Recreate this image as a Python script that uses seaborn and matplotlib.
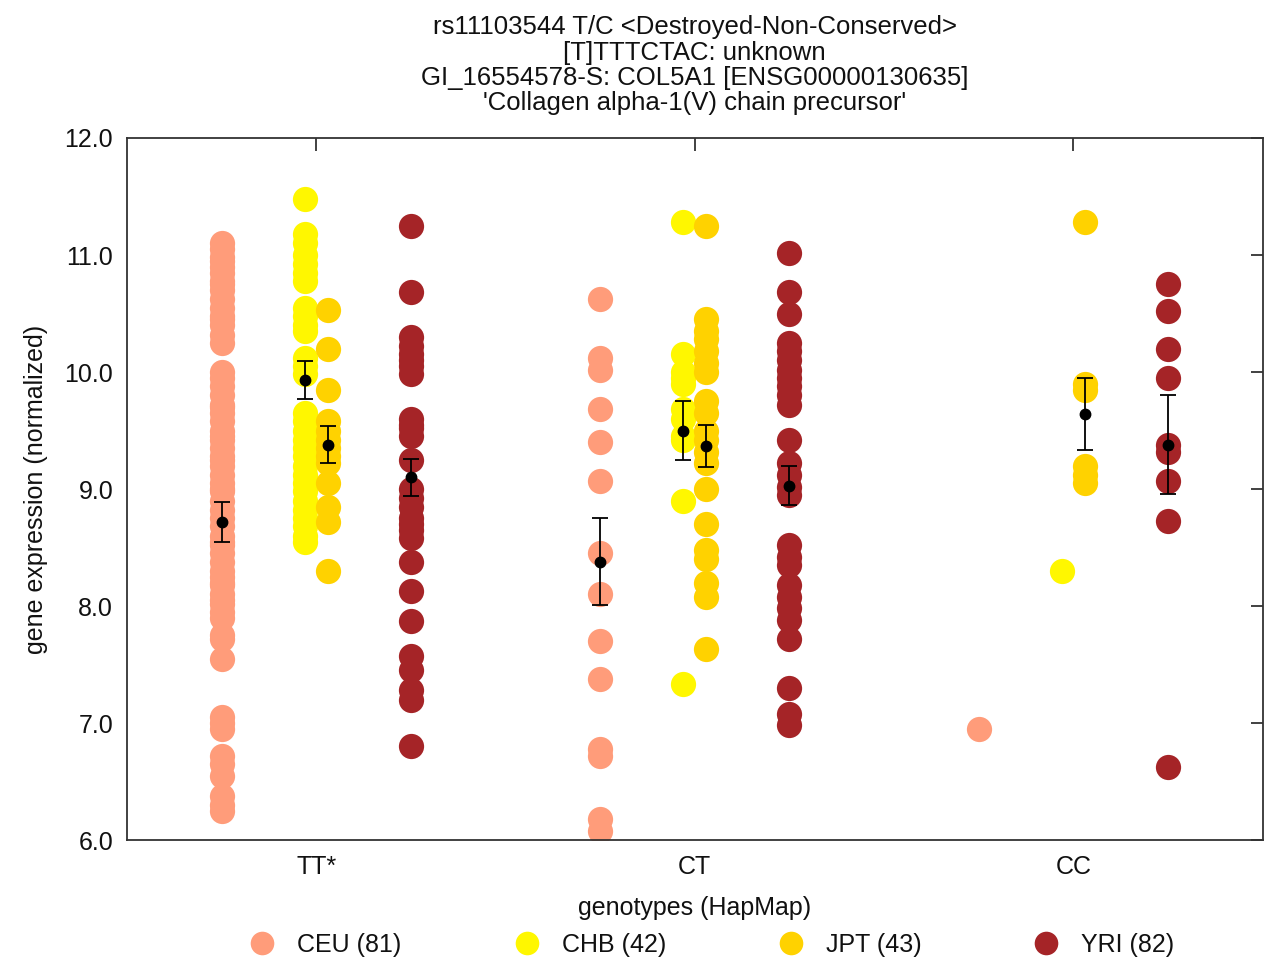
import numpy as np
import pandas as pd
import matplotlib
matplotlib.use('Agg')
import matplotlib.pyplot as plt
import seaborn as sns
from matplotlib.lines import Line2D

genotypes = ['TT*', 'CT', 'CC']
populations = ['CEU', 'CHB', 'JPT', 'YRI']
legend_labels = ['CEU (81)', 'CHB (42)', 'JPT (43)', 'YRI (82)']

# expression values, per population and genotype
ceu_tt = [11.1, 11.05, 10.98, 10.95, 10.9, 10.85, 10.78, 10.75, 10.7, 10.62, 10.55, 10.48,
          10.45, 10.4, 10.32, 10.25, 10.0, 9.95, 9.88, 9.8, 9.72, 9.7, 9.65, 9.58, 9.5,
          9.45, 9.42, 9.35, 9.28, 9.25, 9.2, 9.12, 9.05, 9.0, 8.98, 8.9, 8.82, 8.75, 8.68,
          8.6, 8.55, 8.52, 8.45, 8.38, 8.3, 8.25, 8.2, 8.18, 8.1, 8.05, 8.02, 7.95, 7.9,
          7.75, 7.72, 7.55, 7.05, 7.0, 6.95, 6.72, 6.65, 6.55, 6.38, 6.3, 6.25]
ceu_ct = [10.62, 10.12, 10.02, 9.68, 9.4, 9.07, 8.45, 8.1, 7.7, 7.38, 6.78, 6.72, 6.18, 6.08]
ceu_cc = [6.95]

chb_tt = [11.48, 11.18, 11.1, 11.0, 10.92, 10.85, 10.78, 10.55, 10.48, 10.4, 10.35, 10.12,
          10.05, 9.98, 9.65, 9.58, 9.5, 9.42, 9.35, 9.28, 9.2, 9.12, 9.05, 8.98, 8.9, 8.82,
          8.75, 8.68, 8.6, 8.55]
chb_ct = [11.28, 10.15, 10.0, 9.95, 9.9, 9.68, 9.6, 9.45, 9.42, 8.9, 7.33]
chb_cc = [8.3]

jpt_tt = [10.53, 10.2, 9.85, 9.58, 9.5, 9.42, 9.35, 9.28, 9.22, 9.05, 8.85, 8.72, 8.3]
jpt_ct = [11.25, 10.45, 10.35, 10.28, 10.18, 10.08, 10.0, 9.75, 9.65, 9.5, 9.42, 9.32,
          9.22, 9.0, 8.7, 8.48, 8.4, 8.2, 8.08, 7.63]
jpt_cc = [11.28, 9.9, 9.85, 9.2, 9.12, 9.05]

yri_tt = [11.25, 10.68, 10.3, 10.22, 10.15, 10.1, 10.05, 9.98, 9.6, 9.55, 9.52, 9.45,
          9.25, 9.0, 8.92, 8.85, 8.75, 8.7, 8.65, 8.58, 8.38, 8.13, 7.87, 7.57, 7.45,
          7.28, 7.2, 6.8]
yri_ct = [11.02, 10.68, 10.5, 10.25, 10.18, 10.1, 10.02, 9.95, 9.88, 9.8, 9.72, 9.42,
          9.22, 9.12, 9.02, 8.95, 8.52, 8.42, 8.35, 8.18, 8.08, 7.98, 7.88, 7.72, 7.3,
          7.08, 6.98]
yri_cc = [10.75, 10.52, 10.2, 9.95, 9.38, 9.32, 9.07, 8.73, 6.62]

# group means and error bar half-widths (NaN = no bar)
mean_tt = [8.72, 9.93, 9.38, 9.10]
err_tt = [0.17, 0.16, 0.16, 0.16]
mean_ct = [8.38, 9.50, 9.37, 9.03]
err_ct = [0.37, 0.25, 0.18, 0.17]
mean_cc = [np.nan, np.nan, 9.64, 9.38]
err_cc = [np.nan, np.nan, 0.31, 0.42]

colors = ['#FF9C7A', '#FFF700', '#FFD200', '#A52427']
offsets = [-0.25, -0.03, 0.03, 0.25]

groups = {
    ('CEU', 'TT*'): ceu_tt, ('CEU', 'CT'): ceu_ct, ('CEU', 'CC'): ceu_cc,
    ('CHB', 'TT*'): chb_tt, ('CHB', 'CT'): chb_ct, ('CHB', 'CC'): chb_cc,
    ('JPT', 'TT*'): jpt_tt, ('JPT', 'CT'): jpt_ct, ('JPT', 'CC'): jpt_cc,
    ('YRI', 'TT*'): yri_tt, ('YRI', 'CT'): yri_ct, ('YRI', 'CC'): yri_cc,
}
rows = []
for (pop, gt), vals in groups.items():
    for v in vals:
        rows.append({'population': pop, 'genotype': gt, 'expr': v})
df = pd.DataFrame(rows)
df['xpos'] = df['genotype'].map({g: i for i, g in enumerate(genotypes)}) + \
    df['population'].map(dict(zip(populations, offsets)))

sns.set_style('white')
plt.rcParams['font.family'] = ['Liberation Sans', 'DejaVu Sans']

fig = plt.figure(figsize=(12.74, 9.63), dpi=100)
ax = fig.add_axes([0.0997, 0.1277, 0.8913, 0.729])

for pop, col in zip(populations, colors):
    sub = df[df['population'] == pop]
    sns.scatterplot(data=sub, x='xpos', y='expr', color=col, s=330, linewidth=0,
                    ax=ax, legend=False, zorder=2)

means = pd.DataFrame({'TT*': mean_tt, 'CT': mean_ct, 'CC': mean_cc}, index=populations)
errs = pd.DataFrame({'TT*': err_tt, 'CT': err_ct, 'CC': err_cc}, index=populations)
for i, gt in enumerate(genotypes):
    for j, pop in enumerate(populations):
        m = means.loc[pop, gt]
        if np.isnan(m):
            continue
        ax.errorbar(i + offsets[j], m, yerr=errs.loc[pop, gt], fmt='o', color='black',
                    markersize=7.5, capsize=6, elinewidth=1.3, capthick=1.3, zorder=5)

ax.set_xlim(-0.5, 2.5)
ax.set_ylim(6.0, 12.0)
ax.set_xticks(range(len(genotypes)))
ax.set_xticklabels(genotypes)
ax.set_yticks(np.arange(6, 12.1, 1.0))
ax.set_yticklabels([f'{v:.1f}' for v in np.arange(6, 12.1, 1.0)])
ax.tick_params(axis='both', direction='in', length=9, width=1.3, labelsize=18,
               color='#333333', labelcolor='#111111', top=True, right=True)
ax.tick_params(axis='x', pad=11)
ax.tick_params(axis='y', pad=10)
for sp in ax.spines.values():
    sp.set_color('#333333')
    sp.set_linewidth(1.3)

ax.set_xlabel('genotypes (HapMap)', fontsize=18, labelpad=12, color='#111111')
ax.set_ylabel('gene expression (normalized)', fontsize=18, labelpad=12, color='#111111')
ax.set_title("rs11103544 T/C <Destroyed-Non-Conserved>\n[T]TTTCTAC: unknown\n"
             "GI_16554578-S: COL5A1 [ENSG00000130635]\n'Collagen alpha-1(V) chain precursor'",
             fontsize=18.5, linespacing=1.07, pad=20, color='#111111')

handles = [Line2D([], [], marker='o', linestyle='', markersize=17, color=c,
                  markeredgewidth=0) for c in colors]
fig.legend(handles, legend_labels, loc='lower center', bbox_to_anchor=(0.558, -0.017),
           ncol=4, frameon=False, fontsize=18, columnspacing=4.4, handletextpad=0.8,
           handlelength=1.2, labelcolor='#111111')

fig.savefig('out.png', dpi=100)
